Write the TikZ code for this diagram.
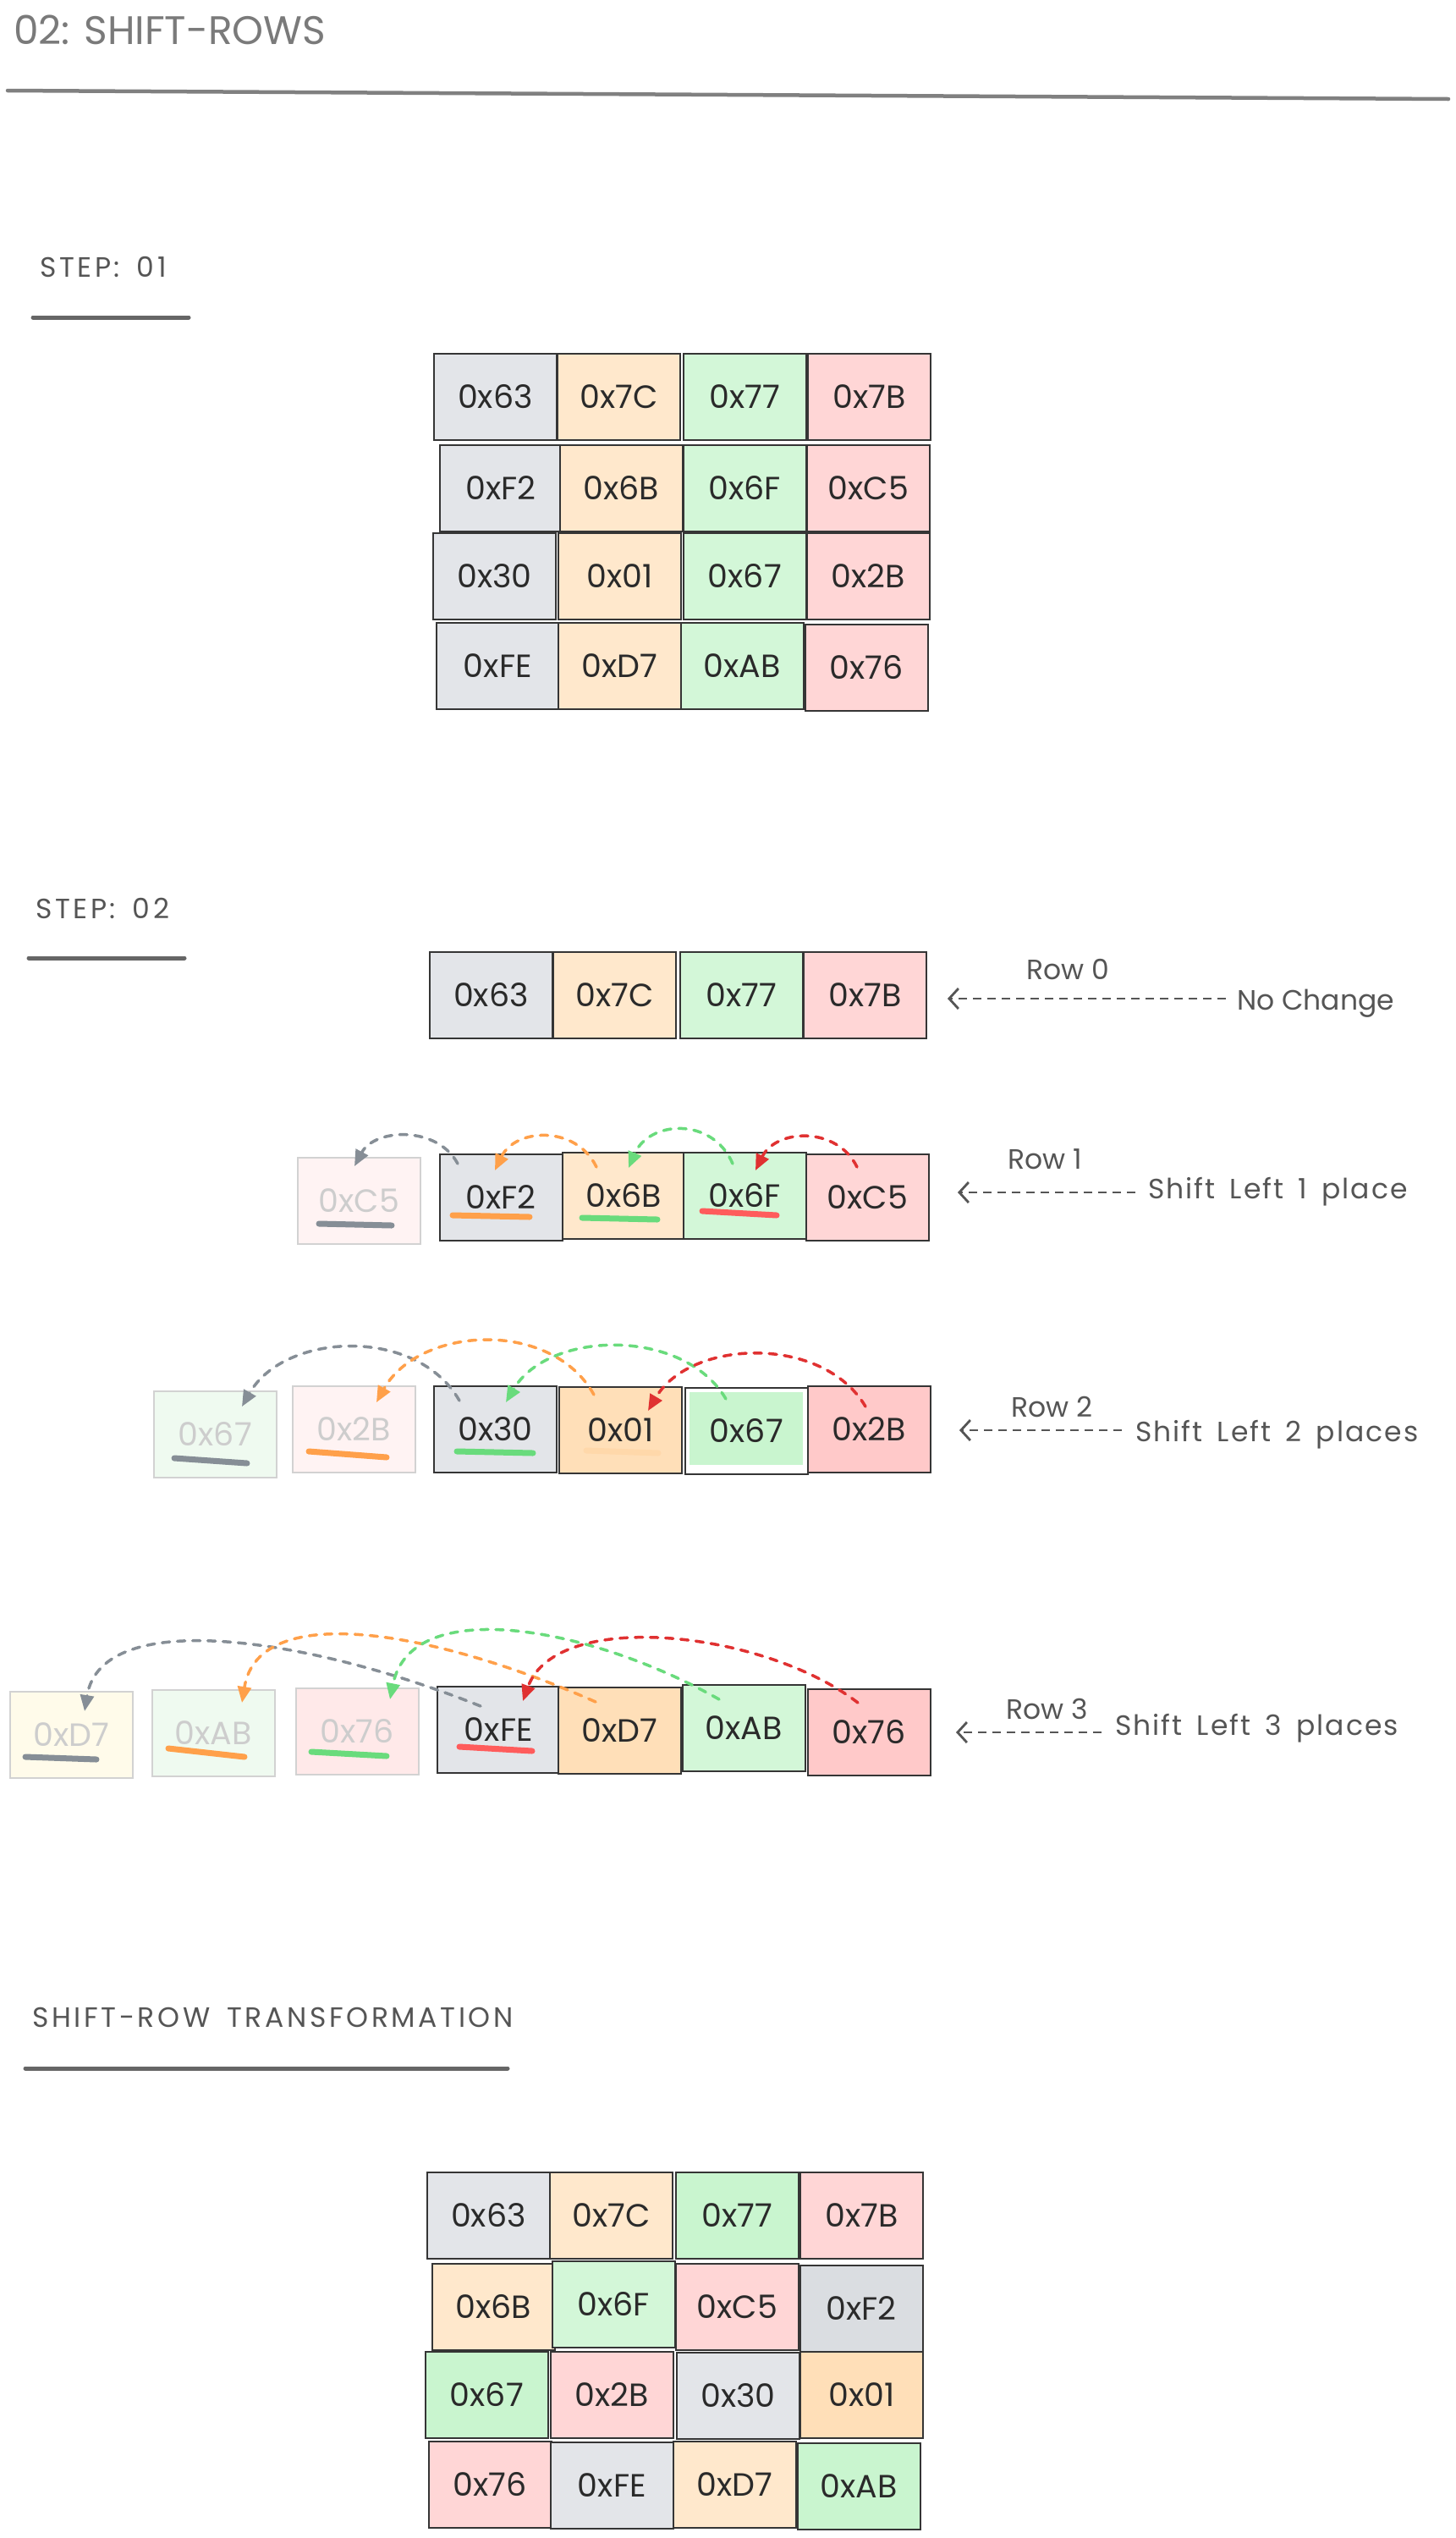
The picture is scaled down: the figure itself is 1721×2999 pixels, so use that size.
\documentclass[tikz,border=0pt]{standalone}
\usepackage{fontspec}
\setmainfont{Poppins}
\newfontfamily\wideFam[LetterSpace=11,WordSpace=1.6]{Poppins}
\newfontfamily\labelWideFam[LetterSpace=6,WordSpace=1.6]{Poppins}
\usetikzlibrary{arrows.meta}
\definecolor{cgray}{HTML}{E3E5E9}
\definecolor{cgraydk}{HTML}{DADDE1}
\definecolor{corange}{HTML}{FFE8CC}
\definecolor{cgreen}{HTML}{D3F7D8}
\definecolor{cred}{HTML}{FFD6D6}
\definecolor{corange2}{HTML}{FFDFB8}
\definecolor{cgreen2}{HTML}{C9F5CF}
\definecolor{cred2}{HTML}{FFC9C9}
\definecolor{gred}{HTML}{FFF3F3}
\definecolor{gredb}{HTML}{FFE9E9}
\definecolor{ggreen}{HTML}{EFFAF0}
\definecolor{gyellow}{HTML}{FFFBEA}
\definecolor{cline}{HTML}{353535}
\definecolor{gline}{HTML}{D2D2D2}
\definecolor{ctext}{HTML}{2A2A2A}
\definecolor{gtext}{HTML}{CDCDCD}
\definecolor{htext}{HTML}{555555}
\definecolor{ttext}{HTML}{7A7A7A}
\definecolor{hline}{HTML}{666666}
\definecolor{tline}{HTML}{808080}
\definecolor{agray}{HTML}{868E96}
\definecolor{aorange}{HTML}{FFA04A}
\definecolor{agreen}{HTML}{69DB7C}
\definecolor{ared}{HTML}{E03131}
\definecolor{ured}{HTML}{FF5C5C}
\definecolor{ufaint}{HTML}{FFD8AA}
\newcommand\myCellFont{\fontsize{38}{42}\selectfont}
\newcommand\myHeadFont{\wideFam\fontsize{33}{38}\selectfont}
\newcommand\myTitleFont{\fontsize{47}{52}\selectfont}
\newcommand\myLabelFont{\fontsize{33}{38}\selectfont}
\newcommand\myWideLabelFont{\labelWideFam\fontsize{33}{38}\selectfont}
\begin{document}
\begin{tikzpicture}[x=1pt,y=-1pt,
  cell/.style={draw=cline, line width=1.6pt, minimum width=145pt, minimum height=102pt,
    inner sep=0pt, anchor=north west, font=\myCellFont, text=ctext},
  ghost/.style={cell, draw=gline, text=gtext},
  head/.style={anchor=base west, inner sep=0pt, font=\myHeadFont, text=htext},
  lbl/.style={anchor=base west, inner sep=0pt, font=\myLabelFont, text=htext},
  wlbl/.style={lbl, font=\myWideLabelFont},
  hrule/.style={draw=hline, line width=5pt, line cap=round},
  uline/.style={line width=7pt, line cap=round},
  jump/.style={line width=3.5pt, line cap=round, dash pattern=on 9pt off 9pt,
    -{Triangle[length=19pt,width=16pt]}},
  pointer/.style={draw=htext, line width=2.8pt, dash pattern=on 10pt off 7pt,
    -{Straight Barb[length=11pt,width=24pt,line width=2.8pt]}}
]
\fill[white] (0,0) rectangle (1721,2999);
\useasboundingbox (0,0) rectangle (1721,2999);

% ---------- title ----------
\node[anchor=base west, inner sep=0pt, font=\myTitleFont, text=ttext] (title) at (16,52) {02: SHIFT-ROWS};
\draw[draw=tline, line width=4.5pt, line cap=round] (9,107) -- (1712,117);

% ---------- step 01 ----------
\node[head] (h1) at (47,327) {STEP: 01};
\draw[hrule] (39,375) -- (223,375);

\node[cell, fill=cgray]   (a00) at (512,417) {0x63};
\node[cell, fill=corange] (a01) at (658,417) {0x7C};
\node[cell, fill=cgreen]  (a02) at (807,417) {0x77};
\node[cell, fill=cred]    (a03) at (954,417) {0x7B};
\node[cell, fill=cgray]   (a10) at (519,525) {0xF2};
\node[cell, fill=corange] (a11) at (661,525) {0x6B};
\node[cell, fill=cgreen]  (a12) at (807,525) {0x6F};
\node[cell, fill=cred]    (a13) at (953,525) {0xC5};
\node[cell, fill=cgray]   (a20) at (511,629) {0x30};
\node[cell, fill=corange] (a21) at (659,629) {0x01};
\node[cell, fill=cgreen]  (a22) at (807,629) {0x67};
\node[cell, fill=cred]    (a23) at (953,629) {0x2B};
\node[cell, fill=cgray]   (a30) at (515,735) {0xFE};
\node[cell, fill=corange] (a31) at (659,735) {0xD7};
\node[cell, fill=cgreen]  (a32) at (804,735) {0xAB};
\node[cell, fill=cred]    (a33) at (951,737) {0x76};

% ---------- step 02 ----------
\node[head] (h2) at (42,1085) {STEP: 02};
\draw[hrule] (34,1132) -- (218,1132);

% row 0
\node[cell, fill=cgray]   (b00) at (507,1124) {0x63};
\node[cell, fill=corange] (b01) at (653,1124) {0x7C};
\node[cell, fill=cgreen]  (b02) at (803,1124) {0x77};
\node[cell, fill=cred]    (b03) at (949,1124) {0x7B};
\node[lbl] (r0) at (1213,1157) {Row 0};
\node[lbl] (r0t) at (1462,1193) {No Change};
\coordinate (p0s) at (1449,1180);
\coordinate (p0e) at (1120,1180);
\draw[pointer] (p0s) -- (p0e);

% row 1
\node[ghost, fill=gred]   (c1g) at (351,1367) {0xC5};
\node[cell, fill=cgray]   (c10) at (519,1363) {0xF2};
\node[cell, fill=corange] (c11) at (664,1361) {0x6B};
\node[cell, fill=cgreen]  (c12) at (807,1361) {0x6F};
\node[cell, fill=cred]    (c13) at (952,1363) {0xC5};
\draw[uline, agray]   (377,1446) -- (463,1448);
\draw[uline, aorange] (535,1436) -- (626,1438);
\draw[uline, agreen]  (688,1439) -- (777,1441);
\draw[uline, ured]    (830,1431) -- (918,1436);
\node[lbl] (r1) at (1191,1381) {Row 1};
\node[wlbl] (r1t) at (1357,1416) {Shift Left 1 place};
\coordinate (p1s) at (1342,1409);
\coordinate (p1e) at (1132,1409);
\draw[pointer] (p1s) -- (p1e);
\coordinate (j1gs) at (541,1375); \coordinate (j1ge) at (419,1378);
\coordinate (j1os) at (705,1379); \coordinate (j1oe) at (585,1383);
\coordinate (j1ns) at (866,1375); \coordinate (j1ne) at (743,1380);
\coordinate (j1rs) at (1013,1379); \coordinate (j1re) at (893,1383);
\draw[jump, color=agray]   (j1gs) .. controls +(-24,-45) and +(24,-45) .. (j1ge);
\draw[jump, color=aorange] (j1os) .. controls +(-24,-50) and +(24,-50) .. (j1oe);
\draw[jump, color=agreen]  (j1ns) .. controls +(-24,-56) and +(24,-56) .. (j1ne);
\draw[jump, color=ared]    (j1rs) .. controls +(-24,-49) and +(24,-49) .. (j1re);

% row 2
\node[ghost, fill=ggreen] (d2g1) at (181,1643) {0x67};
\node[ghost, fill=gred]   (d2g2) at (345,1637) {0x2B};
\node[cell, fill=cgray]    (d20) at (512,1637) {0x30};
\node[cell, fill=corange2] (d21) at (660,1638) {0x01};
\node[cell, fill=white, path picture={\fill[cgreen2]
   ([xshift=5pt,yshift=-5pt]path picture bounding box.north west) rectangle
   ([xshift=-6pt,yshift=11pt]path picture bounding box.south east);}] (d22) at (809,1639) {0x67};
\node[cell, fill=cred2]    (d23) at (954,1637) {0x2B};
\draw[uline, agray]   (206,1723) -- (292,1729);
\draw[uline, aorange] (365,1715) -- (457,1722);
\draw[uline, agreen]  (540,1715) -- (630,1717);
\draw[uline, ufaint]  (693,1714) -- (778,1717);
\node[lbl] (r2) at (1195,1674) {Row 2};
\node[wlbl] (r2t) at (1342,1703) {Shift Left 2 places};
\coordinate (p2s) at (1326,1690);
\coordinate (p2e) at (1134,1690);
\draw[pointer] (p2s) -- (p2e);
\coordinate (j2gs) at (543,1655); \coordinate (j2ge) at (286,1662);
\coordinate (j2os) at (702,1648); \coordinate (j2oe) at (445,1657);
\coordinate (j2ns) at (858,1653); \coordinate (j2ne) at (598,1657);
\coordinate (j2rs) at (1023,1662); \coordinate (j2re) at (766,1667);
\draw[jump, color=agray]   (j2gs) .. controls +(-50,-88) and +(50,-88) .. (j2ge);
\draw[jump, color=aorange] (j2os) .. controls +(-50,-90) and +(50,-90) .. (j2oe);
\draw[jump, color=agreen]  (j2ns) .. controls +(-50,-85) and +(50,-85) .. (j2ne);
\draw[jump, color=ared]    (j2rs) .. controls +(-50,-85) and +(50,-85) .. (j2re);

% row 3
\node[ghost, fill=gyellow] (e3g1) at (11,1998) {0xD7};
\node[ghost, fill=ggreen]  (e3g2) at (179,1996) {0xAB};
\node[ghost, fill=gredb]   (e3g3) at (349,1994) {0x76};
\node[cell, fill=cgray]    (e30) at (516,1992) {0xFE};
\node[cell, fill=corange2] (e31) at (659,1993) {0xD7};
\node[cell, fill=cgreen]   (e32) at (806,1990) {0xAB};
\node[cell, fill=cred2]    (e33) at (954,1995) {0x76};
\draw[uline, agray]   (30,2076) -- (114,2079);
\draw[uline, aorange] (199,2066) -- (289,2076);
\draw[uline, agreen]  (368,2070) -- (457,2075);
\draw[uline, ured]    (543,2064) -- (629,2069);
\node[lbl] (r3) at (1189,2031) {Row 3};
\node[wlbl] (r3t) at (1318,2050) {Shift Left 3 places};
\coordinate (p3s) at (1302,2047);
\coordinate (p3e) at (1130,2047);
\draw[pointer] (p3s) -- (p3e);
\coordinate (j3gs) at (568,2016); \coordinate (j3ge) at (100,2022);
\coordinate (j3os) at (704,2011); \coordinate (j3oe) at (286,2012);
\coordinate (j3ns) at (850,2008); \coordinate (j3ne) at (461,2008);
\coordinate (j3rs) at (1014,2012); \coordinate (j3re) at (618,2010);
\draw[jump, color=agray]   (j3gs) .. controls +(-200,-80) and +(20,-125) .. (j3ge);
\draw[jump, color=aorange] (j3os) .. controls +(-180,-80) and +(20,-125) .. (j3oe);
\draw[jump, color=agreen]  (j3ns) .. controls +(-150,-85) and +(25,-125) .. (j3ne);
\draw[jump, color=ared]    (j3rs) .. controls +(-110,-85) and +(40,-110) .. (j3re);

% ---------- result ----------
\node[head] (h3) at (38,2395) {SHIFT-ROW TRANSFORMATION};
\draw[hrule] (30,2444) -- (600,2444);

\node[cell, fill=cgray]   (f00) at (504,2566) {0x63};
\node[cell, fill=corange] (f01) at (649,2566) {0x7C};
\node[cell, fill=cgreen2] (f02) at (798,2566) {0x77};
\node[cell, fill=cred]    (f03) at (945,2566) {0x7B};
\node[cell, fill=corange] (f10) at (510,2674) {0x6B};
\node[cell, fill=cgreen]  (f11) at (652,2671) {0x6F};
\node[cell, fill=cred]    (f12) at (798,2674) {0xC5};
\node[cell, fill=cgraydk] (f13) at (945,2676) {0xF2};
\node[cell, fill=cgreen2] (f20) at (502,2778) {0x67};
\node[cell, fill=cred]    (f21) at (650,2778) {0x2B};
\node[cell, fill=cgray]   (f22) at (799,2779) {0x30};
\node[cell, fill=corange2] (f23) at (945,2778) {0x01};
\node[cell, fill=cred]    (f30) at (506,2884) {0x76};
\node[cell, fill=cgray]   (f31) at (650,2885) {0xFE};
\node[cell, fill=corange] (f32) at (795,2884) {0xD7};
\node[cell, fill=cgreen2] (f33) at (942,2886) {0xAB};
\end{tikzpicture}
\end{document}
